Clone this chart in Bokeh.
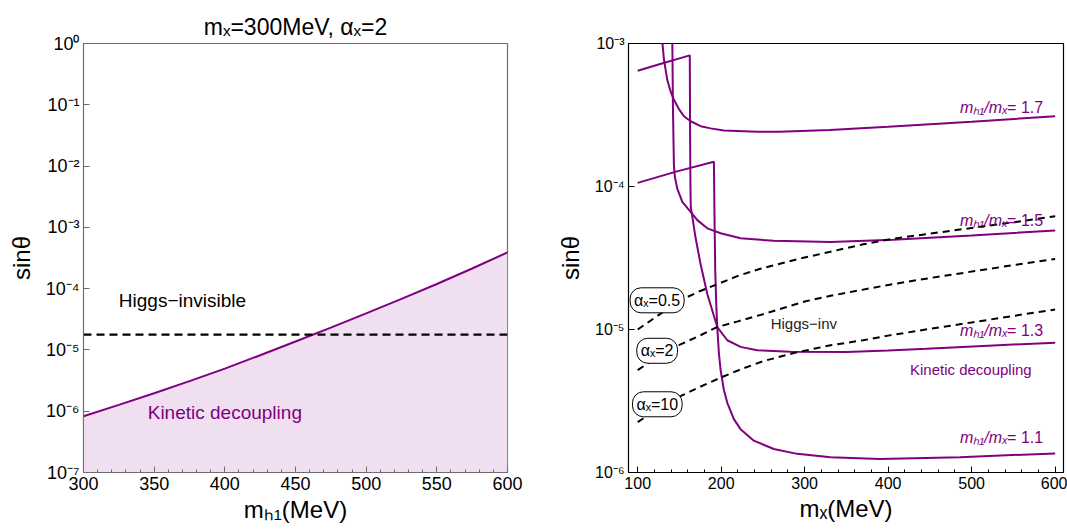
from bokeh.plotting import figure
from bokeh.models import Label, Range1d, CustomJSTickFormatter, FixedTicker, SingleIntervalTicker
from bokeh.layouts import row
from bokeh.embed import file_html
from bokeh.resources import INLINE

FONT = "Liberation Sans"
PURPLE = "#800080"
FILL = "#f0dff0"

# ---------------- left panel data (m_X = 300 MeV, alpha_X = 2) ----------------
mh1 = [300, 325, 350, 375, 400, 425, 450, 475, 500, 525, 550, 575, 600]
kd_left = [8.3e-7, 1.27e-6, 1.96e-6, 3.1e-6, 4.95e-6, 8.2e-6, 1.37e-5, 2.31e-5, 3.94e-5, 6.8e-5, 1.19e-4, 2.13e-4, 3.9e-4]
hinv_left_x = [300, 600]
hinv_left_y = [1.78e-5, 1.78e-5]
left_yticks = [1e-7, 1e-6, 1e-5, 1e-4, 1e-3, 1e-2, 1e-1, 1e0]

# ---------------- right panel data ----------------
r11_x = [100, 146, 191.3, 192.1, 192.9, 194.1, 195.3, 197.3, 199.3, 203.2, 207.3, 215.2, 223.2,
         239.1, 263, 291, 331, 390, 486, 600]
r11_y = [1.06e-4, 1.27e-4, 1.49e-4, 5.68e-5, 2.56e-5, 1.51e-5, 1.04e-5, 6.8e-6, 5.21e-6, 3.79e-6, 3.07e-6, 2.36e-6, 2.01e-6,
         1.67e-6, 1.46e-6, 1.35e-6, 1.28e-6, 1.245e-6, 1.28e-6, 1.36e-6]

r13_x = [100, 131, 162.4, 162.8, 163.2, 163.6, 169.4, 175.4, 183.4, 195.3, 207.3, 223.2, 243.2, 283, 350, 400, 446, 520, 600]
r13_y = [6.44e-4, 7.3e-4, 8.26e-4, 2.2e-4, 1.0e-4, 7.2e-5, 4.36e-5, 2.85e-5, 1.77e-5, 1.04e-5, 8.41e-6, 7.56e-6, 7.17e-6,
         6.98e-6, 6.95e-6, 7.12e-6, 7.33e-6, 7.7e-6, 8.09e-6]

r15_x = [141.3, 141.6, 142.2, 143.4, 144.6, 147.5, 153.5, 163.4, 171.4, 183.4, 199.3, 223.2, 263, 331, 406, 500, 600]
r15_y = [1.15e-3, 9.0e-4, 3.63e-4, 1.4e-4, 1.16e-4, 9.63e-5, 7.8e-5, 6.65e-5, 5.82e-5, 5.1e-5, 4.71e-5, 4.35e-5,
         4.17e-5, 4.09e-5, 4.25e-5, 4.55e-5, 4.92e-5]

r17_x = [129.3, 130.0, 131.5, 135.5, 139.5, 143.4, 149.4, 155.4, 163.4, 175.4, 187.3, 203.2, 243.2, 270, 330, 400, 500, 600]
r17_y = [1.1e-3, 9.5e-4, 7.7e-4, 5.55e-4, 4.6e-4, 4.04e-4, 3.48e-4, 3.1e-4, 2.86e-4, 2.64e-4, 2.55e-4, 2.46e-4,
         2.41e-4, 2.41e-4, 2.48e-4, 2.62e-4, 2.84e-4, 3.1e-4]

a05_x = [100, 125, 151, 175, 195, 220, 247, 290, 331, 370, 407, 450, 500, 550, 600]
a05_y = [1.0e-5, 1.26e-5, 1.6e-5, 1.86e-5, 2.07e-5, 2.37e-5, 2.66e-5, 3.09e-5, 3.5e-5, 3.94e-5, 4.32e-5, 4.68e-5,
         5.13e-5, 5.62e-5, 6.2e-5]
a2_x = [100, 125, 150, 175, 195, 220, 250, 300, 331, 370, 400, 450, 500, 550, 600]
a2_y = [5.2e-6, 6.5e-6, 7.8e-6, 9.1e-6, 1.04e-5, 1.14e-5, 1.28e-5, 1.57e-5, 1.72e-5, 1.9e-5, 2.05e-5, 2.29e-5,
        2.54e-5, 2.82e-5, 3.11e-5]
a10_x = [100, 125, 150, 175, 199, 225, 250, 287, 331, 370, 400, 450, 500, 550, 600]
a10_y = [2.25e-6, 2.82e-6, 3.39e-6, 3.98e-6, 4.6e-6, 5.31e-6, 6.0e-6, 6.84e-6, 7.76e-6, 8.41e-6, 9.06e-6, 1.01e-5,
         1.12e-5, 1.245e-5, 1.38e-5]

right_yticks = [1e-6, 1e-5, 1e-4, 1e-3]

ratio_labels = ["1.7", "1.5", "1.3", "1.1"]
ratio_label_x = [585.6, 585.6, 585.6, 585.6]
ratio_label_y = [3.56e-4, 5.82e-5, 9.86e-6, 1.76e-6]

alpha_labels = ["αₓ=0.5", "αₓ=2", "αₓ=10"]
alpha_label_x = [123.3, 123.3, 123.5]
alpha_label_y = [1.6e-5, 7.1e-6, 3.0e-6]

SUP_JS = """
const e = Math.round(Math.log10(tick));
const m = {"-":"⁻","0":"⁰","1":"¹","2":"²","3":"³","4":"⁴","5":"⁵","6":"⁶","7":"⁷","8":"⁸","9":"⁹"};
return "10" + String(e).split("").map(c => m[c]).join("");
"""


def style_axes(p, color, tick_size, interval):
    for ax in (p.xaxis[0], p.yaxis[0]):
        ax.axis_line_color = color
        ax.major_tick_line_color = color
        ax.minor_tick_line_color = color
        ax.major_tick_in = 6
        ax.major_tick_out = 0
        ax.minor_tick_in = 3
        ax.minor_tick_out = 0
        ax.major_label_text_font = FONT
        ax.major_label_text_font_size = tick_size
        ax.major_label_text_color = "black"
        ax.axis_label_text_font = FONT
        ax.axis_label_text_font_size = "24px"
        ax.axis_label_text_font_style = "normal"
        ax.axis_label_text_color = "black"
        ax.major_label_standoff = 4
    p.xaxis[0].axis_label_standoff = 3
    p.yaxis[0].axis_label_standoff = 8
    p.xaxis[0].ticker = SingleIntervalTicker(interval=interval, num_minor_ticks=5)
    p.yaxis[0].formatter = CustomJSTickFormatter(code=SUP_JS)
    p.xgrid.visible = False
    p.ygrid.visible = False
    p.outline_line_color = color
    p.outline_line_width = 1.2
    p.background_fill_color = "white"
    p.border_fill_color = "white"


# ---------------- left figure ----------------
p1 = figure(width=548, height=530, x_range=Range1d(300, 600), y_range=Range1d(1e-7, 1),
            y_axis_type="log", output_backend="svg", toolbar_location=None,
            min_border_left=83, min_border_right=41, min_border_top=43, min_border_bottom=58)
p1.title.text = "mₓ=300MeV, αₓ=2"
p1.title.align = "center"
p1.title.text_font = FONT
p1.title.text_font_size = "23px"
p1.title.text_font_style = "normal"
p1.title.text_color = "black"
p1.title.standoff = 8

p1.varea(x=mh1, y1=left_yticks[0], y2=kd_left, fill_color=FILL)
p1.line(mh1, kd_left, line_color=PURPLE, line_width=2)
p1.line(hinv_left_x, hinv_left_y, line_color="black", line_width=2.2, line_dash="8 5")

style_axes(p1, "#6e6e6e", "18px", 50)
p1.yaxis[0].ticker = FixedTicker(ticks=left_yticks, minor_ticks=[])
p1.xaxis[0].axis_label = "mₕ₁(MeV)"
p1.yaxis[0].axis_label = "sinθ"

p1.add_layout(Label(x=370, y=6.4e-5, text="Higgs−invisible", text_font=FONT, text_font_size="19px",
                    text_color="black", text_align="center", text_baseline="middle"))
p1.add_layout(Label(x=400, y=9.7e-7, text="Kinetic decoupling", text_font=FONT, text_font_size="19px",
                    text_color=PURPLE, text_align="center", text_baseline="middle"))

# ---------------- right figure ----------------
p2 = figure(width=519, height=530, x_range=Range1d(89, 610), y_range=Range1d(1e-6, 1e-3),
            y_axis_type="log", output_backend="svg", toolbar_location=None,
            min_border_left=80, min_border_right=4, min_border_top=43, min_border_bottom=53)

for xs, ys in ((r11_x, r11_y), (r13_x, r13_y), (r15_x, r15_y), (r17_x, r17_y)):
    p2.line(xs, ys, line_color=PURPLE, line_width=2)
for xs, ys in ((a05_x, a05_y), (a2_x, a2_y), (a10_x, a10_y)):
    p2.line(xs, ys, line_color="black", line_width=2, line_dash="7 5")

style_axes(p2, "black", "16px", 100)
p2.yaxis[0].ticker = FixedTicker(ticks=right_yticks, minor_ticks=[])
p2.xaxis[0].axis_label = "mₓ(MeV)"
p2.yaxis[0].axis_label = "sinθ"

for txt, lx, ly in zip(ratio_labels, ratio_label_x, ratio_label_y):
    p2.add_layout(Label(x=lx, y=ly, text="= " + txt, text_font=FONT, text_font_size="16px",
                        text_color=PURPLE, text_align="right", text_baseline="middle"))
    p2.add_layout(Label(x=lx, y=ly, x_offset=-35, text="mₕ₁/mₓ", text_font=FONT, text_font_size="16px",
                        text_font_style="italic", text_color=PURPLE, text_align="right",
                        text_baseline="middle"))

for txt, lx, ly in zip(alpha_labels, alpha_label_x, alpha_label_y):
    p2.add_layout(Label(x=lx, y=ly, text=txt, text_font=FONT, text_font_size="16px",
                        text_color="black", text_align="center", text_baseline="middle",
                        background_fill_color="white", border_line_color="black",
                        border_line_width=1, padding=4, border_radius=11))

p2.add_layout(Label(x=299, y=1.1e-5, text="Higgs−inv", text_font=FONT, text_font_size="15px",
                    text_color="#222222", text_align="center", text_baseline="middle"))
p2.add_layout(Label(x=499, y=5.25e-6, text="Kinetic decoupling", text_font=FONT, text_font_size="15px",
                    text_color=PURPLE, text_align="center", text_baseline="middle"))

layout = row(p1, p2)
open("out.html", "w").write(file_html(layout, INLINE))
